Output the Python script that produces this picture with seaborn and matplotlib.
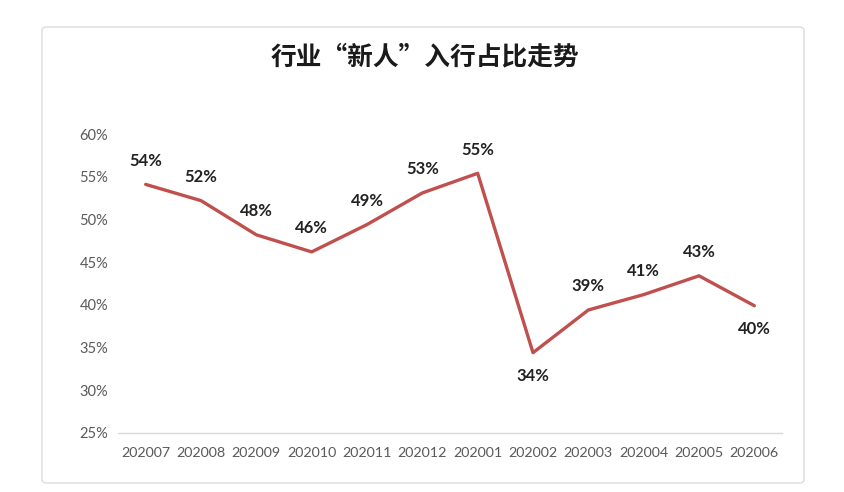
import matplotlib
matplotlib.use("Agg")
import matplotlib.pyplot as plt
import seaborn as sns
import pandas as pd
from matplotlib.patches import FancyBboxPatch

months = ["202007", "202008", "202009", "202010", "202011", "202012",
          "202001", "202002", "202003", "202004", "202005", "202006"]
share = [54.1, 52.2, 48.2, 46.2, 49.4, 53.1, 55.4, 34.4, 39.4, 41.2, 43.4, 39.9]
label_below = [False, False, False, False, False, False,
               False, True, False, False, False, True]
title = "行业“新人”入行占比走势"
yticks = [25, 30, 35, 40, 45, 50, 55, 60]

sns.set_theme(style="white")
plt.rcParams['font.family'] = ['Lato', 'Noto Sans CJK SC', 'DejaVu Sans']

df = pd.DataFrame({"month": months, "share": share})

fig = plt.figure(figsize=(8.44, 4.92), dpi=100)
# outer card border
card = FancyBboxPatch((42/844, 1 - 483/492), (804-42)/844, (483-27)/492,
                      boxstyle="round,pad=0,rounding_size=0.006",
                      transform=fig.transFigure, facecolor="white",
                      edgecolor="#dcdcdc", linewidth=1.0, zorder=-5)
fig.patches.append(card)

ax = fig.add_axes([118/844, 1 - 433/492, (782-118)/844, (433-134)/492])
ax.set_zorder(2)
ax.set_facecolor("none")
sns.lineplot(data=df, x="month", y="share", ax=ax, color="#C0504D",
             linewidth=2.4, sort=False)
ax.set_xlim(-0.5, len(months) - 0.5)
ax.set_ylim(25, 60)
ax.set_yticks(yticks)
ax.set_yticklabels([f"{v}%" for v in yticks])
ax.set_xlabel("")
ax.set_ylabel("")
for s in ["top", "right", "left"]:
    ax.spines[s].set_visible(False)
ax.spines["bottom"].set_color("#d9d9d9")
ax.spines["bottom"].set_linewidth(1.0)
ax.tick_params(axis="y", length=0, pad=7, labelsize=10.5, labelcolor="#595959")
ax.tick_params(axis="x", length=0, pad=10, labelsize=10.3, labelcolor="#595959")

for i, (v, below) in enumerate(zip(share, label_below)):
    off = -17 if below else 17
    ax.annotate(f"{round(v)}%", (i, v), xytext=(0, off), textcoords="offset points",
                ha="center", va="center", fontsize=12, fontweight="bold",
                color="#222222")

fig.text(0.503, 1 - 57/492, title, ha="center", va="center", fontsize=18.5,
         fontweight="bold", color="#1a1a1a",
         family=['Noto Sans CJK SC', 'DejaVu Sans'])

fig.savefig("out.png", dpi=100, facecolor="white")
